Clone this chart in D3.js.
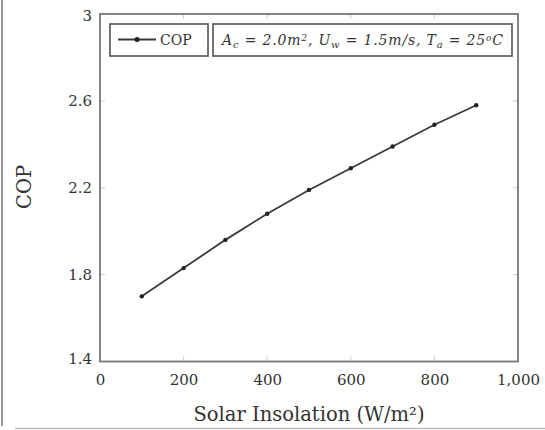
<!DOCTYPE html>
<html>
<head>
<meta charset="utf-8">
<script src="https://cdn.jsdelivr.net/npm/d3@7"></script>
<style>
  body { margin: 0; background: #fff; }
  text { font-family: "DejaVu Serif", "Liberation Serif", serif; fill: #333; }
</style>
</head>
<body>
<svg id="chart"></svg>
<script>
// data
const insolation = [100, 200, 300, 400, 500, 600, 700, 800, 900];
const cop = [1.70, 1.83, 1.96, 2.08, 2.19, 2.29, 2.39, 2.49, 2.58];
const xTicks = [0, 200, 400, 600, 800, 1000];
const yTicks = [1.4, 1.8, 2.2, 2.6, 3.0];
const seriesName = "COP";

const W = 545, H = 430;
const margin = { top: 14, right: 27, bottom: 68.5, left: 100 };
const width = W - margin.left - margin.right;
const height = H - margin.top - margin.bottom;

const svg = d3.select("#chart").attr("width", W).attr("height", H);

// scan borders of the original picture
svg.append("line").attr("x1", 2).attr("x2", 2).attr("y1", 0).attr("y2", 426)
  .attr("stroke", "#999").attr("stroke-width", 2);
svg.append("line").attr("x1", 15).attr("x2", W).attr("y1", 428.5).attr("y2", 428.5)
  .attr("stroke", "#bbb").attr("stroke-width", 1.5);

const g = svg.append("g").attr("transform", `translate(${margin.left},${margin.top})`);

const x = d3.scaleLinear().domain([0, 1000]).range([0, width]);
const y = d3.scaleLinear().domain([1.4, 3.0]).range([height, 0]);

// inner ticks (pgfplots style), faint
const tickLen = 5;
const tk = g.append("g").attr("stroke", "#ccc").attr("stroke-width", 1);
xTicks.forEach(v => {
  tk.append("line").attr("x1", x(v)).attr("x2", x(v)).attr("y1", height).attr("y2", height - tickLen);
  tk.append("line").attr("x1", x(v)).attr("x2", x(v)).attr("y1", 0).attr("y2", tickLen);
});
yTicks.forEach(v => {
  tk.append("line").attr("x1", 0).attr("x2", tickLen).attr("y1", y(v)).attr("y2", y(v));
  tk.append("line").attr("x1", width).attr("x2", width - tickLen).attr("y1", y(v)).attr("y2", y(v));
});

// tick labels via axes (no domain, no tick lines)
const xAxis = g.append("g").attr("transform", `translate(0,${height})`)
  .call(d3.axisBottom(x).tickValues(xTicks).tickSize(0).tickPadding(9).tickFormat(d3.format(",")));
const yAxis = g.append("g")
  .call(d3.axisLeft(y).tickValues(yTicks).tickSize(0).tickPadding(8).tickFormat(d => d === 3 ? "3" : d3.format(".1f")(d)));
[xAxis, yAxis].forEach(a => {
  a.select(".domain").remove();
  a.selectAll("text").attr("font-family", "DejaVu Serif, serif").attr("font-size", 15).attr("fill", "#333");
});
xAxis.selectAll("text").attr("dy", "0.95em");
// 1.4 sits a bit high at the corner
yAxis.selectAll(".tick").filter(d => d === 1.4).select("text").attr("dy", "0.1em");
yAxis.selectAll(".tick").filter(d => d === 3.0).select("text").attr("dy", "0.4em");

// frame
g.append("rect").attr("x", 0).attr("y", 0).attr("width", width).attr("height", height)
  .attr("fill", "none").attr("stroke", "#777").attr("stroke-width", 1.8);

// series
const line = d3.line().x((d, i) => x(insolation[i])).y(d => y(d));
g.append("path").datum(cop).attr("d", line)
  .attr("fill", "none").attr("stroke", "#3a3a3a").attr("stroke-width", 1.8);
g.selectAll(".pt").data(cop).join("circle").attr("class", "pt")
  .attr("cx", (d, i) => x(insolation[i])).attr("cy", d => y(d)).attr("r", 2.2)
  .attr("fill", "#222");

// axis titles
svg.append("text").attr("x", margin.left + width / 2).attr("y", 421)
  .attr("text-anchor", "middle").attr("font-size", 19.5)
  .text("Solar Insolation (W/m²)");
svg.append("text").attr("transform", "translate(31,187) rotate(-90)")
  .attr("text-anchor", "middle").attr("font-size", 19.5).text("COP");

// legend boxes
const lg = svg.append("g");
lg.append("rect").attr("x", 110).attr("y", 24).attr("width", 98).attr("height", 32)
  .attr("fill", "#fff").attr("stroke", "#666").attr("stroke-width", 1.8);
lg.append("line").attr("x1", 118).attr("x2", 156).attr("y1", 39.5).attr("y2", 39.5)
  .attr("stroke", "#3a3a3a").attr("stroke-width", 1.8);
lg.append("circle").attr("cx", 137).attr("cy", 39.5).attr("r", 2.5).attr("fill", "#222");
lg.append("text").attr("x", 160).attr("y", 44.5).attr("font-size", 14).text(seriesName);

lg.append("rect").attr("x", 213).attr("y", 24).attr("width", 299).attr("height", 32)
  .attr("fill", "#fff").attr("stroke", "#666").attr("stroke-width", 1.8);
const note = lg.append("text").attr("x", 222).attr("y", 44.5).attr("font-size", 14)
  .attr("font-style", "italic").attr("textLength", 281).attr("lengthAdjust", "spacing");
const parts = [
  ["A", 0], ["c", 1], [" = 2.0m", 0], ["2", -1], [", U", 0], ["w", 1], [" = 1.5m/s, T", 0],
  ["a", 1], [" = 25", 0], ["o", -1], ["C", 0]
];
parts.forEach(([t, s]) => {
  const ts = note.append("tspan").text(t);
  if (s === 1) ts.attr("font-size", 10).attr("baseline-shift", "-25%");
  if (s === -1) ts.attr("font-size", 9).attr("baseline-shift", "40%");
});
</script>
</body>
</html>
